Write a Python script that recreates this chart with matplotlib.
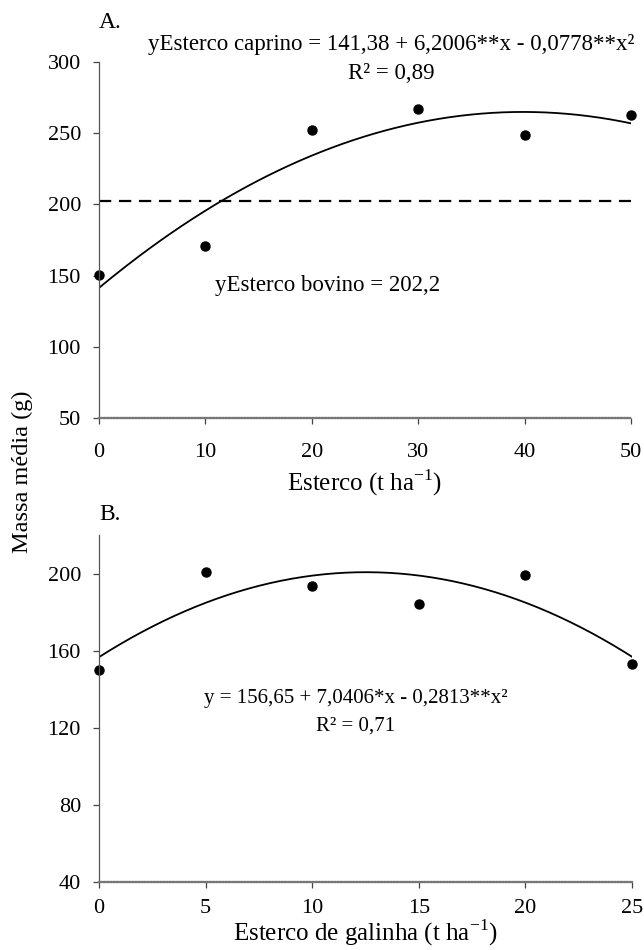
import numpy as np
import matplotlib
matplotlib.use("Agg")
import matplotlib.pyplot as plt

plt.rcParams['font.family'] = ['Liberation Serif', 'DejaVu Serif']
plt.rcParams['mathtext.fontset'] = 'custom'
plt.rcParams['mathtext.rm'] = 'Liberation Serif'

# panel A: esterco caprino (points + quadratic fit) and bovino (mean)
dose_a = [0, 10, 20, 30, 40, 50]
massa_caprino = [150.2, 170.6, 252.5, 267.2, 248.5, 262.5]
coef_caprino = [141.38, 6.2006, -0.0778]
media_bovino = 202.2
yticks_a = [50, 100, 150, 200, 250, 300]

# panel B: esterco de galinha
dose_b = [0, 5, 10, 15, 20, 25]
massa_galinha = [150.1, 200.9, 193.8, 184.2, 199.3, 153.2]
coef_galinha = [156.65, 7.0406, -0.2813]
yticks_b = [40, 80, 120, 160, 200]

W, H = 644, 950
fig = plt.figure(figsize=(W / 100, H / 100), dpi=100)


def px(left, top, right, bottom):
    return [left / W, 1 - bottom / H, (right - left) / W, (bottom - top) / H]


def style(ax, xpad):
    for s in ['top', 'right']:
        ax.spines[s].set_visible(False)
    ax.spines['left'].set_color('#555555')
    ax.spines['left'].set_linewidth(0.9)
    ax.spines['bottom'].set_color('#777777')
    ax.spines['bottom'].set_linewidth(1.6)
    ax.spines['bottom'].set_linestyle((0, (1, 0.4)))
    ax.tick_params(direction='out', length=4, width=0.9, color='#444444',
                   labelsize=16, pad=9)
    ax.tick_params(axis='x', pad=xpad)


def quad(c, x):
    return c[0] + c[1] * x + c[2] * x ** 2


# ---- A ----
axA = fig.add_axes(px(99, 62, 631, 418))
xs = np.linspace(0, 50, 200)
axA.plot(xs, quad(coef_caprino, xs), color='black', lw=1.3)
axA.plot([0, 50], [media_bovino, media_bovino], color='black', lw=1.6,
         dashes=(5.5, 3.5))
axA.plot(dose_a, massa_caprino, 'o', color='black', ms=6.5, clip_on=False)
axA.set_xlim(0, 50)
axA.set_ylim(50, 300)
axA.set_xticks(dose_a)
axA.set_yticks(yticks_a)
style(axA, 14)
axA.set_xlabel('Esterco (t ha$^{\\mathregular{-1}}$)', fontsize=18, labelpad=4)
axA.text(0, 1.11, 'A.', transform=axA.transAxes, fontsize=17, va='center', ha='left')
axA.text(0.55, 1.05, 'yEsterco caprino = 141,38 + 6,2006**x - 0,0778**x²',
         transform=axA.transAxes, fontsize=16.5, ha='center', va='center')
axA.text(0.55, 0.967, 'R² = 0,89', transform=axA.transAxes, fontsize=16.5,
         ha='center', va='center')
axA.text(0.43, 0.373, 'yEsterco bovino = 202,2', transform=axA.transAxes,
         fontsize=16.5, ha='center', va='center')

# ---- B ----
axB = fig.add_axes(px(99, 535, 632, 882))
xs = np.linspace(0, 25, 200)
axB.plot(xs, quad(coef_galinha, xs), color='black', lw=1.3)
axB.plot(dose_b, massa_galinha, 'o', color='black', ms=6.5, clip_on=False)
axB.set_xlim(0, 25)
axB.set_ylim(40, 220)
axB.set_xticks(dose_b)
axB.set_yticks(yticks_b)
style(axB, 8)
axB.set_xlabel('Esterco de galinha (t ha$^{\\mathregular{-1}}$)', fontsize=18, labelpad=0)
axB.text(0, 1.06, 'B.', transform=axB.transAxes, fontsize=17, va='center', ha='left')
axB.text(0.482, 0.53, 'y = 156,65 + 7,0406*x - 0,2813**x²', transform=axB.transAxes,
         fontsize=15, ha='center', va='center')
axB.text(0.482, 0.45, 'R² = 0,71', transform=axB.transAxes, fontsize=15,
         ha='center', va='center')

fig.text(22 / W, 1 - 472 / H, 'Massa média (g)', rotation=90, fontsize=17.5,
         ha='center', va='center')

fig.savefig('out.png', dpi=100)
